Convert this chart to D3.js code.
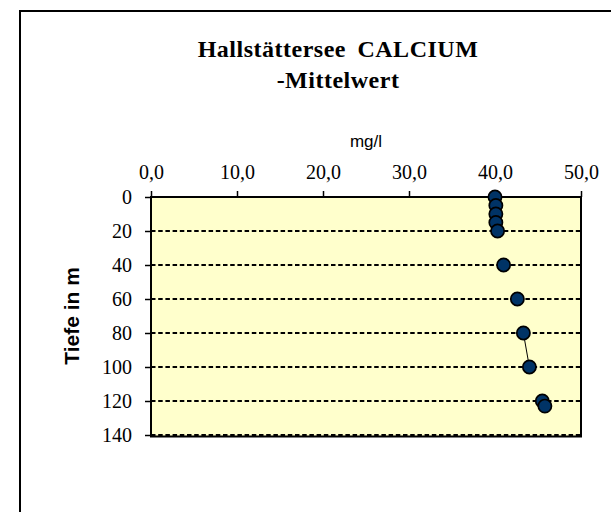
<!DOCTYPE html>
<html><head><meta charset="utf-8">
<script src="https://cdn.jsdelivr.net/npm/d3@7"></script>
<style>body{margin:0;background:#fff}svg{display:block}</style>
</head><body><svg id="c" width="611" height="512"></svg>
<script>
// depth rows of the source table; null = empty cell (Excel leaves a gap in the line)
const depths = [0, 5, 10, 15, 20, 30, 40, 50, 60, 70, 80, 100, 110, 120, 123];
const calcium = [40.0, 40.1, 40.1, 40.1, 40.3, null, 41.0, null, 42.6, null, 43.3, 44.0, null, 45.5, 45.8];
const xTicks = [0, 10, 20, 30, 40, 50];
const yTicks = [0, 20, 40, 60, 80, 100, 120, 140];
const titleLines = ["Hallstättersee CALCIUM", "-Mittelwert"];
const xAxisTitle = "mg/l";
const yAxisTitle = "Tiefe in m";

(function () {
const svg = d3.select("#c");
svg.append("rect").attr("width", 611).attr("height", 512).attr("fill", "#fff");

const pL = 151, pR = 581, pT = 197, pB = 435;
const x = d3.scaleLinear().domain([0, 50]).range([pL, pR]);
const y = d3.scaleLinear().domain([0, 140]).range([pT, pB]);

// outer frame (top and left edges visible)
svg.append("path").attr("d", "M20,530V11H630")
  .attr("fill", "none").attr("stroke", "#000").attr("stroke-width", 2);

// plot background
svg.append("rect").attr("x", pL).attr("y", pT)
  .attr("width", pR - pL).attr("height", pB - pT + 1)
  .attr("fill", "#FFFFCC");

// dashed gridlines
svg.append("g").selectAll("line").data(yTicks.filter(d => d > 0)).join("line")
  .attr("x1", pL).attr("x2", pR)
  .attr("y1", d => y(d)).attr("y2", d => y(d))
  .attr("stroke", "#000").attr("stroke-width", 1.8)
  .attr("stroke-dasharray", "4.5,2.7");

// plot border
svg.append("rect").attr("x", pL).attr("y", pT)
  .attr("width", pR - pL).attr("height", pB - pT + 1.5)
  .attr("fill", "none").attr("stroke", "#000").attr("stroke-width", 2);

const fmt = d => d3.format(".1f")(d).replace(".", ",");
const serif = "'Liberation Serif', 'Times New Roman', serif";
const sans = "'Liberation Sans', Arial, sans-serif";

// x axis on top
const gx = svg.append("g").attr("transform", `translate(0,${pT})`)
  .call(d3.axisTop(x).tickValues(xTicks).tickSize(6).tickSizeOuter(0).tickPadding(12).tickFormat(fmt));
gx.select(".domain").remove();
gx.selectAll("line").attr("stroke", "#000").attr("stroke-width", 1.5);
gx.selectAll("text").attr("font-family", serif).attr("font-size", 20).attr("fill", "#000");

// y axis on left
const gy = svg.append("g").attr("transform", `translate(${pL},0)`)
  .call(d3.axisLeft(y).tickValues(yTicks).tickSize(6).tickSizeOuter(0).tickPadding(13).tickFormat(d3.format("d")));
gy.select(".domain").remove();
gy.selectAll("line").attr("stroke", "#000").attr("stroke-width", 1.5);
gy.selectAll("text").attr("font-family", serif).attr("font-size", 20).attr("fill", "#000");

// series line (gaps at empty cells)
const rows = depths.map((d, i) => ({ depth: d, v: calcium[i] }));
svg.append("path").datum(rows)
  .attr("d", d3.line().defined(r => r.v != null).x(r => x(r.v)).y(r => y(r.depth)))
  .attr("fill", "none").attr("stroke", "#000").attr("stroke-width", 1);

// markers
svg.append("g").selectAll("circle").data(rows.filter(r => r.v != null)).join("circle")
  .attr("cx", r => x(r.v)).attr("cy", r => y(r.depth)).attr("r", 6.6)
  .attr("fill", "#003366").attr("stroke", "#000").attr("stroke-width", 1.7);

// title
svg.append("text").attr("x", 338).attr("y", 57)
  .attr("text-anchor", "middle")
  .attr("font-family", serif)
  .attr("font-weight", "bold").attr("font-size", 24)
  .attr("letter-spacing", 0.5).attr("word-spacing", 5)
  .selectAll("tspan").data(titleLines).join("tspan")
  .attr("x", 338).attr("dy", (d, i) => i === 0 ? 0 : 31)
  .text(d => d);

// x axis title
svg.append("text").attr("x", 366).attr("y", 147).attr("text-anchor", "middle")
  .attr("font-family", sans).attr("font-size", 17).text(xAxisTitle);

// y axis title
svg.append("text").attr("transform", `translate(79,${(pT + pB) / 2}) rotate(-90)`)
  .attr("text-anchor", "middle")
  .attr("font-family", sans).attr("font-weight", "bold").attr("font-size", 21).text(yAxisTitle);
})();
</script>
</body></html>
